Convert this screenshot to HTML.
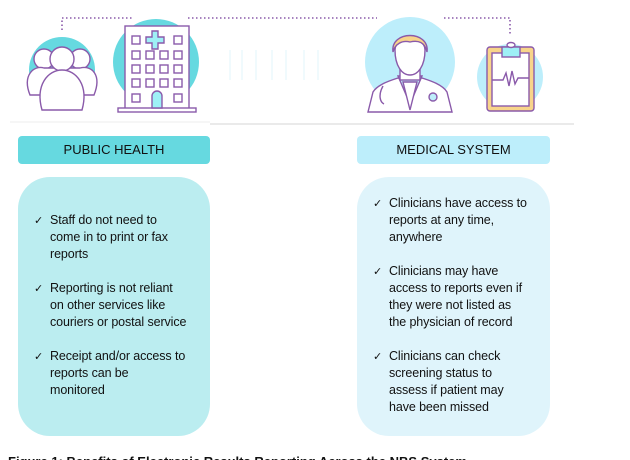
<!DOCTYPE html>
<html><head><meta charset="utf-8"><style>
html,body{margin:0;padding:0;background:#fff;width:630px;height:460px;overflow:hidden;position:relative;font-family:"Liberation Sans",sans-serif;}
.abs{position:absolute;}
.hdr{position:absolute;top:136px;height:28px;border-radius:4px;font-size:13px;line-height:28px;text-align:center;color:#111;}
.box{position:absolute;top:177px;height:259px;border-radius:32px;}
ul{list-style:none;margin:0;padding:0;position:absolute;font-size:12.5px;line-height:17px;color:#111;white-space:nowrap;letter-spacing:-0.1px;}
li{position:relative;padding-left:16px;margin-bottom:17px;}
li:before{content:"\2713";position:absolute;left:0;top:0;font-family:"DejaVu Sans",sans-serif;font-size:11px;}
</style></head><body>
<svg class="abs" style="left:0;top:0" width="630" height="130" viewBox="0 0 630 130">
<g stroke="#8a5aaa" stroke-width="1.6" stroke-dasharray="1.5 2.5" fill="none">
<path d="M62 30 V18 H132"/><path d="M188 18 H377"/><path d="M444 18 H510 V34"/>
</g>
<line x1="10" y1="122" x2="210" y2="122" stroke="#eee"/>
<line x1="210" y1="124" x2="574" y2="124" stroke="#d6d6d6"/>
<circle cx="62" cy="70" r="33" fill="#66d9e0"/>
<g fill="#fff" stroke="#8a5aaa" stroke-width="1.4">
<circle cx="44" cy="59" r="10"/><circle cx="80" cy="59" r="10"/>
<path d="M30 95 C22 75 34 65 44 68 L80 68 C92 65 102 75 94 95 Z"/>
<circle cx="62" cy="59" r="12"/>
<path d="M42 110 C35 85 48 70 62 70 C76 70 89 85 82 110 Z"/>
</g>
<circle cx="156" cy="62" r="43" fill="#66d9e0"/>
<g stroke="#8a5aaa" stroke-width="1.4" fill="#fff">
<rect x="125" y="26" width="64" height="84"/>
<rect x="118" y="108" width="78" height="4"/>
<path d="M152 31h6v6h6v6h-6v6h-6v-6h-6v-6h6z" fill="#9ef0f6"/>
<g fill="#fff">
<rect x="132" y="36" width="8" height="8"/><rect x="174" y="36" width="8" height="8"/>
<rect x="132" y="51" width="8" height="8"/><rect x="146" y="51" width="8" height="8"/><rect x="160" y="51" width="8" height="8"/><rect x="174" y="51" width="8" height="8"/>
<rect x="132" y="65" width="8" height="8"/><rect x="146" y="65" width="8" height="8"/><rect x="160" y="65" width="8" height="8"/><rect x="174" y="65" width="8" height="8"/>
<rect x="132" y="79" width="8" height="8"/><rect x="146" y="79" width="8" height="8"/><rect x="160" y="79" width="8" height="8"/><rect x="174" y="79" width="8" height="8"/>
<rect x="132" y="94" width="8" height="8"/><rect x="174" y="94" width="8" height="8"/>
</g>
<path d="M152 108v-12a5 5 0 0 1 10 0v12z" fill="#9ef0f6"/>
</g>
<circle cx="410" cy="62" r="45" fill="#bdeefb"/>
<g stroke="#8a5aaa" stroke-width="1.4">
<path d="M368 112 L373 92 C378 84 392 80 398 78 L422 78 C428 80 442 84 447 92 L452 112 Z" fill="#fff"/>
<path d="M398 76 L410 104 L422 76 Z" fill="#bdeefb"/>
<path d="M403 82 L410 110 L417 82 Z" fill="#fff"/>
<rect x="400" y="62" width="20" height="18" fill="#fff"/>
<path d="M395 50 C395 35 425 35 425 50 C425 66 418 75 410 75 C402 75 395 66 395 50 Z" fill="#fff"/>
<path d="M393 52 C390 30 430 30 427 52 C425 42 418 40 410 42 C402 40 395 44 393 52 Z" fill="#f8d48a"/>
<circle cx="433" cy="97" r="4" fill="#bdeefb"/>
<path d="M383 86 C378 95 380 102 384 104" fill="none"/>
</g>
<circle cx="510" cy="77" r="33" fill="#bdeefb"/>
<g stroke="#8a5aaa" stroke-width="1.4">
<rect x="487" y="47" width="47" height="64" rx="3" fill="#f8d48a"/>
<rect x="492" y="53" width="37" height="53" fill="#fff"/>
<rect x="502" y="47" width="18" height="10" fill="#9ef0f6"/>
<ellipse cx="511" cy="45" rx="4" ry="2.5" fill="#fff"/>
<path d="M492 80 H503 L506 73 L509 86 L512 71 L515 84 L518 78 H529" fill="none"/>
</g>
<g stroke="#f0fafd" stroke-width="2">
<line x1="230" y1="50" x2="230" y2="80"/><line x1="242" y1="50" x2="242" y2="80"/><line x1="256" y1="50" x2="256" y2="80"/><line x1="272" y1="50" x2="272" y2="80"/><line x1="286" y1="50" x2="286" y2="80"/><line x1="304" y1="50" x2="304" y2="80"/><line x1="318" y1="50" x2="318" y2="80"/>
</g>
</svg>
<div class="hdr" style="left:18px;width:192px;background:#66d9e0">PUBLIC HEALTH</div>
<div class="hdr" style="left:357px;width:193px;background:#bdeefb">MEDICAL SYSTEM</div>
<div class="box" style="left:18px;width:192px;background:#bbedf0"></div>
<div class="box" style="left:357px;width:193px;background:#dff4fb"></div>
<ul style="left:34px;top:212px;">
<li>Staff do not need to<br>come in to print or fax<br>reports</li>
<li>Reporting is not reliant<br>on other services like<br>couriers or postal service</li>
<li>Receipt and/or access to<br>reports can be<br>monitored</li>
</ul>
<ul style="left:373px;top:195px;">
<li>Clinicians have access to<br>reports at any time,<br>anywhere</li>
<li>Clinicians may have<br>access to reports even if<br>they were not listed as<br>the physician of record</li>
<li>Clinicians can check<br>screening status to<br>assess if patient may<br>have been missed</li>
</ul>
<div class="abs" style="left:8px;top:454px;font-size:13px;font-weight:bold;color:#111;white-space:nowrap">Figure 1: Benefits of Electronic Results Reporting Across the NBS System</div>
</body></html>
